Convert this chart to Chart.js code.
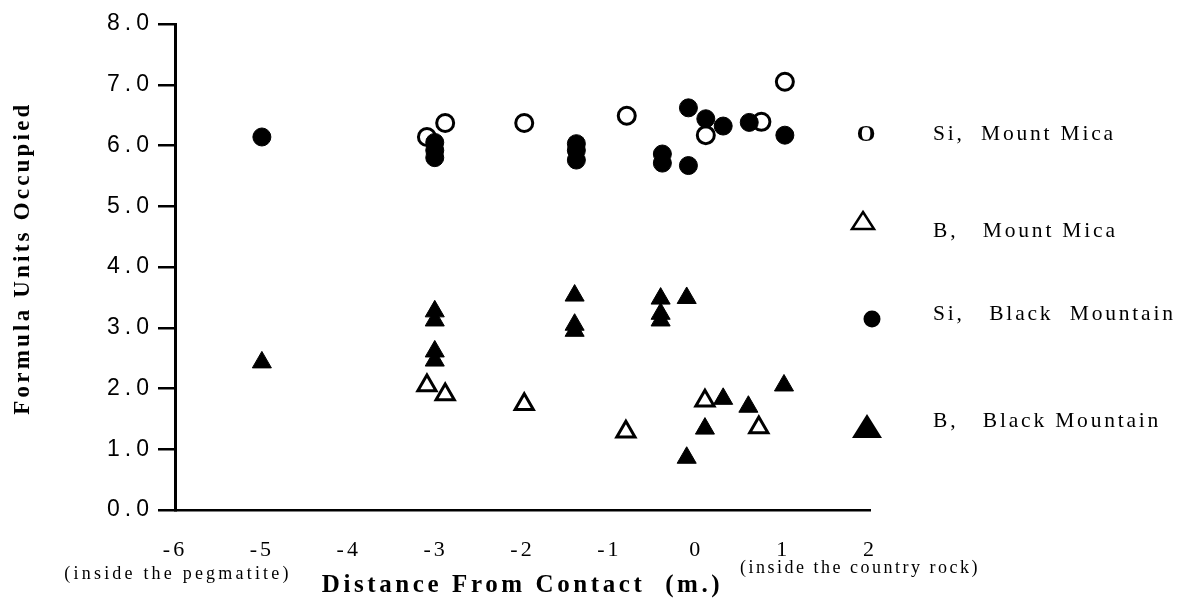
<!DOCTYPE html>
<html>
<head>
<meta charset="utf-8">
<script src="https://cdn.jsdelivr.net/npm/chart.js@4.4.1/dist/chart.umd.min.js"></script>
<style>
  html, body { margin: 0; padding: 0; background: #ffffff; }
  #wrap { position: relative; width: 1190px; height: 603px; }
</style>
</head>
<body>
<div id="wrap"><canvas id="c" width="1190" height="603"></canvas></div>
<script>
// ---- data ----
const siMountMicaX = [-3.10, -2.89, -1.98, -0.80, 0.11, 0.75, 1.02];
const siMountMicaY = [6.14, 6.37, 6.37, 6.49, 6.17, 6.39, 7.05];

const bMountMicaX = [-3.10, -2.89, -1.98, -0.81, 0.10, 0.72];
const bMountMicaY = [2.05, 1.90, 1.74, 1.29, 1.80, 1.36];

const siBlackMountainX = [-5.00, -3.01, -3.01, -3.01, -1.38, -1.38, -1.38, -0.39, -0.39, -0.09, -0.09, 0.11, 0.31, 0.61, 1.02];
const siBlackMountainY = [6.14, 6.05, 5.92, 5.80, 6.03, 5.92, 5.76, 5.86, 5.71, 6.62, 5.67, 6.44, 6.32, 6.38, 6.17];

const bBlackMountainX = [-5.00, -3.01, -3.01, -3.01, -3.01, -1.40, -1.40, -1.40, -0.41, -0.41, -0.41, -0.11, 0.31, 0.10, -0.11, 0.60, 1.01];
const bBlackMountainY = [2.43, 3.27, 3.12, 2.61, 2.46, 3.53, 3.05, 2.95, 3.48, 3.23, 3.12, 3.49, 1.83, 1.34, 0.86, 1.70, 2.05];

const xTickValues = [-6, -5, -4, -3, -2, -1, 0, 1, 2];
const yTickValues = [0, 1, 2, 3, 4, 5, 6, 7, 8];

const seriesNames = ['Si,  Mount Mica', 'B,   Mount Mica', 'Si,   Black  Mountain', 'B,   Black Mountain'];
const xTitle = 'Distance From Contact  (m.)';
const yTitle = '  Formula Units Occupied';
const xNoteLeft = '(inside the pegmatite)';
const xNoteRight = '(inside the country rock)';

function pts(xs, ys) { return xs.map((x, i) => ({ x: x, y: ys[i] })); }

const SERIF = '"Liberation Serif", "Times New Roman", serif';
const SANS = '"Liberation Sans", Arial, sans-serif';

// letter spacing per scale part (reference text is widely tracked)
const spacingPlugin = {
  id: 'spacing',
  beforeDraw(chart) {
    const ctx = chart.ctx;
    const cfg = { x: { labels: '3px', title: '3.6px' }, y: { labels: '5px', title: '3.2px' } };
    Object.keys(cfg).forEach(id => {
      const s = chart.scales[id];
      if (!s || s._spacedPatched) return;
      const origLabels = s.drawLabels.bind(s);
      const origTitle = s.drawTitle.bind(s);
      s.drawLabels = function (ca) { ctx.save(); ctx.letterSpacing = cfg[id].labels; origLabels(ca); ctx.restore(); };
      s.drawTitle = function () { ctx.save(); ctx.letterSpacing = cfg[id].title; origTitle(); ctx.restore(); };
      s._spacedPatched = true;
    });
  }
};

// legend + axis notes
const notesPlugin = {
  id: 'notes',
  afterDraw(chart) {
    const ctx = chart.ctx;
    ctx.save();
    ctx.fillStyle = '#000';
    ctx.strokeStyle = '#000';
    ctx.textBaseline = 'middle';

    // notes under the x axis
    ctx.font = '18px ' + SERIF;
    ctx.textAlign = 'center';
    ctx.letterSpacing = '3.2px';
    ctx.fillText(xNoteLeft, 178, 574);
    ctx.letterSpacing = '2.5px';
    ctx.fillText(xNoteRight, 860, 568);

    // legend markers
    ctx.letterSpacing = '0px';
    ctx.font = 'bold 24px ' + SERIF;
    ctx.fillText('O', 866, 135);

    // open triangle
    ctx.lineWidth = 2.5;
    ctx.beginPath();
    ctx.moveTo(863, 212);
    ctx.lineTo(874, 229);
    ctx.lineTo(852, 229);
    ctx.closePath();
    ctx.stroke();

    // filled circle
    ctx.beginPath();
    ctx.arc(872, 319, 8.5, 0, Math.PI * 2);
    ctx.fill();

    // filled triangle
    ctx.beginPath();
    ctx.moveTo(867, 414);
    ctx.lineTo(882, 438);
    ctx.lineTo(852, 438);
    ctx.closePath();
    ctx.fill();

    // legend text
    ctx.font = '21.5px ' + SERIF;
    ctx.letterSpacing = '2.8px';
    ctx.textAlign = 'left';
    const ys = [134, 231, 314, 421];
    seriesNames.forEach((t, i) => ctx.fillText(t, 933, ys[i]));
    ctx.restore();
  }
};

new Chart(document.getElementById('c'), {
  type: 'scatter',
  data: {
    datasets: [
      {
        label: seriesNames[2],
        data: pts(siBlackMountainX, siBlackMountainY),
        pointStyle: 'circle', pointRadius: 9, pointHoverRadius: 9,
        backgroundColor: '#000', borderColor: '#000', borderWidth: 1
      },
      {
        label: seriesNames[3],
        data: pts(bBlackMountainX, bBlackMountainY),
        pointStyle: 'triangle', pointRadius: 11, pointHoverRadius: 11,
        backgroundColor: '#000', borderColor: '#000', borderWidth: 1
      },
      {
        label: seriesNames[0],
        data: pts(siMountMicaX, siMountMicaY),
        pointStyle: 'circle', pointRadius: 8.5, pointHoverRadius: 8.5,
        backgroundColor: '#fff', borderColor: '#000', borderWidth: 3
      },
      {
        label: seriesNames[1],
        data: pts(bMountMicaX, bMountMicaY),
        pointStyle: 'triangle', pointRadius: 10.5, pointHoverRadius: 10.5,
        backgroundColor: '#fff', borderColor: '#000', borderWidth: 3
      }
    ]
  },
  options: {
    responsive: false,
    animation: false,
    devicePixelRatio: 1,
    layout: { padding: { top: 24, right: 320, left: 0, bottom: 0 } },
    plugins: {
      legend: { display: false },
      tooltip: { enabled: false }
    },
    scales: {
      x: {
        type: 'linear',
        min: -6, max: 2,
        afterBuildTicks(s) { s.ticks = xTickValues.map(v => ({ value: v })); },
        afterFit(s) { s.height = 93; },
        grid: { display: false },
        border: { display: true, color: '#000', width: 2.5 },
        ticks: {
          color: '#000',
          font: { family: SERIF, size: 22 },
          padding: 19,
          maxRotation: 0,
          autoSkip: false,
          callback: v => String(v)
        },
        title: {
          display: true,
          text: xTitle,
          color: '#000',
          font: { family: SERIF, size: 25, weight: 'bold' },
          padding: { top: 0, bottom: 2 }
        }
      },
      y: {
        type: 'linear',
        min: 0, max: 8,
        afterBuildTicks(s) { s.ticks = yTickValues.map(v => ({ value: v })); },
        afterFit(s) { s.width = 175; },
        grid: {
          display: true,
          drawOnChartArea: false,
          drawTicks: true,
          tickLength: 17,
          color: '#000',
          lineWidth: 2.5
        },
        border: { display: true, color: '#000', width: 3 },
        ticks: {
          color: '#000',
          font: { family: SANS, size: 23 },
          padding: 4,
          autoSkip: false,
          callback: v => Number(v).toFixed(1)
        },
        title: {
          display: true,
          text: yTitle,
          color: '#000',
          font: { family: SERIF, size: 23, weight: 'bold' },
          padding: { top: 9, bottom: 0 }
        }
      }
    }
  },
  plugins: [spacingPlugin, notesPlugin]
});
</script>
</body>
</html>
